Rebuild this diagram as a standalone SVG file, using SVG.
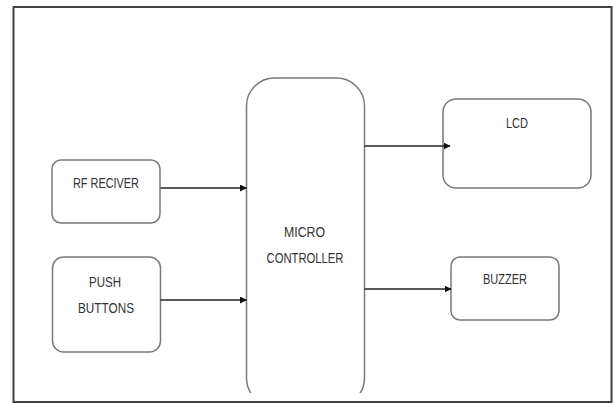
<svg xmlns="http://www.w3.org/2000/svg" width="614" height="403" viewBox="0 0 614 403">
  <style>
    .box { fill: #ffffff; stroke: #7a7a7a; stroke-width: 1.5; }
    .lbl { font-family: "Liberation Sans", Arial, sans-serif; font-size: 14px; fill: #333333; text-anchor: middle; }
    .conn { stroke: #222222; stroke-width: 1.6; fill: none; marker-end: url(#arr); }
  </style>
  <defs>
    <marker id="arr" markerWidth="7" markerHeight="7" refX="6.5" refY="3.5" orient="auto" markerUnits="userSpaceOnUse">
      <path d="M0,0 L7,3.5 L0,7 Z" fill="#111111"/>
    </marker>
    <clipPath id="mcclip">
      <rect x="0" y="0" width="614" height="393"/>
    </clipPath>
  </defs>
  <rect width="614" height="403" fill="#ffffff"/>
  <rect id="frame" x="13.5" y="7" width="598" height="395" fill="none" stroke="#404040" stroke-width="2"/>

  <g id="rf-receiver">
    <rect class="box" x="52" y="160" width="108" height="63" rx="9"/>
    <text class="lbl" x="106" y="187.5" textLength="66" lengthAdjust="spacingAndGlyphs">RF RECIVER</text>
  </g>
  <g id="push-buttons">
    <rect class="box" x="52.5" y="257" width="108" height="95" rx="11"/>
    <text class="lbl" x="105" y="286.5" textLength="32" lengthAdjust="spacingAndGlyphs">PUSH</text>
    <text class="lbl" x="106" y="312.5" textLength="56" lengthAdjust="spacingAndGlyphs">BUTTONS</text>
  </g>
  <g id="micro-controller">
    <rect class="box" x="246.5" y="78" width="118" height="328" rx="28" clip-path="url(#mcclip)"/>
    <text class="lbl" x="304.5" y="236.5" textLength="41" lengthAdjust="spacingAndGlyphs">MICRO</text>
    <text class="lbl" x="305" y="262.5" textLength="77" lengthAdjust="spacingAndGlyphs">CONTROLLER</text>
  </g>
  <g id="lcd">
    <rect class="box" x="443" y="99" width="148" height="89" rx="13"/>
    <text class="lbl" x="517" y="127.5" textLength="22" lengthAdjust="spacingAndGlyphs">LCD</text>
  </g>
  <g id="buzzer">
    <rect class="box" x="451" y="257" width="108" height="63" rx="9"/>
    <text class="lbl" x="505" y="283.5" textLength="44" lengthAdjust="spacingAndGlyphs">BUZZER</text>
  </g>

  <g id="connectors">
    <line class="conn" x1="160.5" y1="188" x2="246.5" y2="188"/>
    <line class="conn" x1="160.5" y1="300" x2="246.5" y2="300"/>
    <line class="conn" x1="364.5" y1="146" x2="450" y2="146"/>
    <line class="conn" x1="364.5" y1="289" x2="451" y2="289"/>
  </g>
</svg>
